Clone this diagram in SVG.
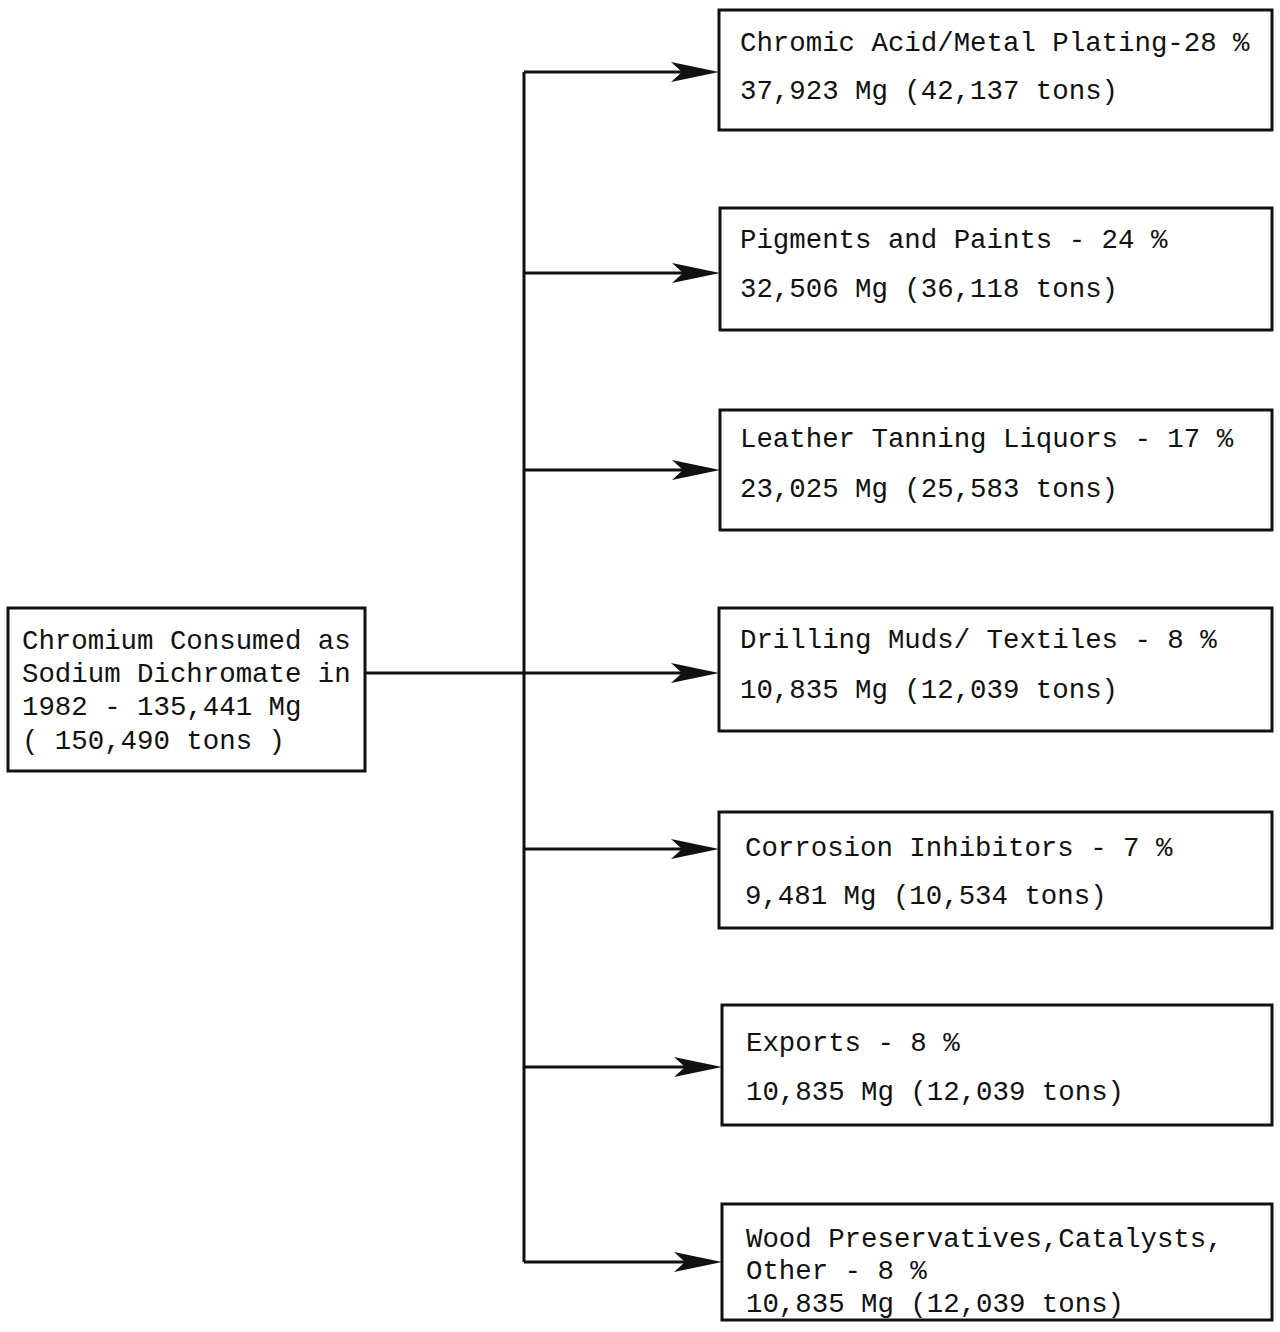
<svg xmlns="http://www.w3.org/2000/svg" width="1280" height="1332" viewBox="0 0 1280 1332">
  <style>
    .box { fill: #ffffff; stroke: #111111; stroke-width: 3; }
    .wire { fill: none; stroke: #111111; stroke-width: 3; }
    .head { fill: #111111; stroke: none; }
    text { font-family: "Liberation Mono", "DejaVu Sans Mono", monospace; font-size: 27.4px; fill: #111111; }
  </style>
  <defs>
    <path id="arrowhead" class="head" d="M0,0 L-48,-10 L-37,0 L-48,10 Z"/>
  </defs>
  <rect width="1280" height="1332" fill="#ffffff"/>

  <!-- connectors: trunk line and branches to each use -->
  <g id="connectors">
    <path class="wire" d="M365,673 H690"/>
    <path class="wire" d="M524,72 V1262"/>
    <path class="wire" d="M524,72 H690"/>
    <path class="wire" d="M524,273 H690"/>
    <path class="wire" d="M524,470 H690"/>
    <path class="wire" d="M524,849 H690"/>
    <path class="wire" d="M524,1067 H690"/>
    <path class="wire" d="M524,1262 H690"/>
    <use href="#arrowhead" x="719" y="72"/>
    <use href="#arrowhead" x="720" y="273"/>
    <use href="#arrowhead" x="720" y="470"/>
    <use href="#arrowhead" x="719" y="673"/>
    <use href="#arrowhead" x="719" y="849"/>
    <use href="#arrowhead" x="722" y="1067"/>
    <use href="#arrowhead" x="722" y="1262"/>
  </g>

  <g id="source">
    <rect class="box" x="8" y="608" width="357" height="163"/>
    <text x="22" y="649">Chromium Consumed as</text>
    <text x="22" y="682">Sodium Dichromate in</text>
    <text x="22" y="715">1982 - 135,441 Mg</text>
    <text x="22" y="749">( 150,490 tons )</text>
  </g>

  <g id="chromic-acid">
    <rect class="box" x="719" y="10" width="553" height="120"/>
    <text x="740" y="51">Chromic Acid/Metal Plating-28 %</text>
    <text x="740" y="99">37,923 Mg (42,137 tons)</text>
  </g>

  <g id="pigments">
    <rect class="box" x="720" y="208" width="552" height="122"/>
    <text x="740" y="248">Pigments and Paints - 24 %</text>
    <text x="740" y="297">32,506 Mg (36,118 tons)</text>
  </g>

  <g id="leather">
    <rect class="box" x="720" y="410" width="552" height="120"/>
    <text x="740" y="447">Leather Tanning Liquors - 17 %</text>
    <text x="740" y="497">23,025 Mg  (25,583 tons)</text>
  </g>

  <g id="drilling">
    <rect class="box" x="719" y="608" width="553" height="123"/>
    <text x="740" y="648">Drilling Muds/ Textiles - 8 %</text>
    <text x="740" y="698">10,835 Mg (12,039 tons)</text>
  </g>

  <g id="corrosion">
    <rect class="box" x="719" y="812" width="553" height="116"/>
    <text x="745" y="856">Corrosion Inhibitors - 7 %</text>
    <text x="745" y="904">9,481 Mg (10,534 tons)</text>
  </g>

  <g id="exports">
    <rect class="box" x="722" y="1005" width="550" height="120"/>
    <text x="746" y="1051">Exports - 8 %</text>
    <text x="746" y="1100">10,835 Mg (12,039 tons)</text>
  </g>

  <g id="wood">
    <rect class="box" x="722" y="1204" width="550" height="116"/>
    <text x="746" y="1247">Wood Preservatives,Catalysts,</text>
    <text x="746" y="1279">Other - 8 %</text>
    <text x="746" y="1312">10,835 Mg (12,039 tons)</text>
  </g>
</svg>
